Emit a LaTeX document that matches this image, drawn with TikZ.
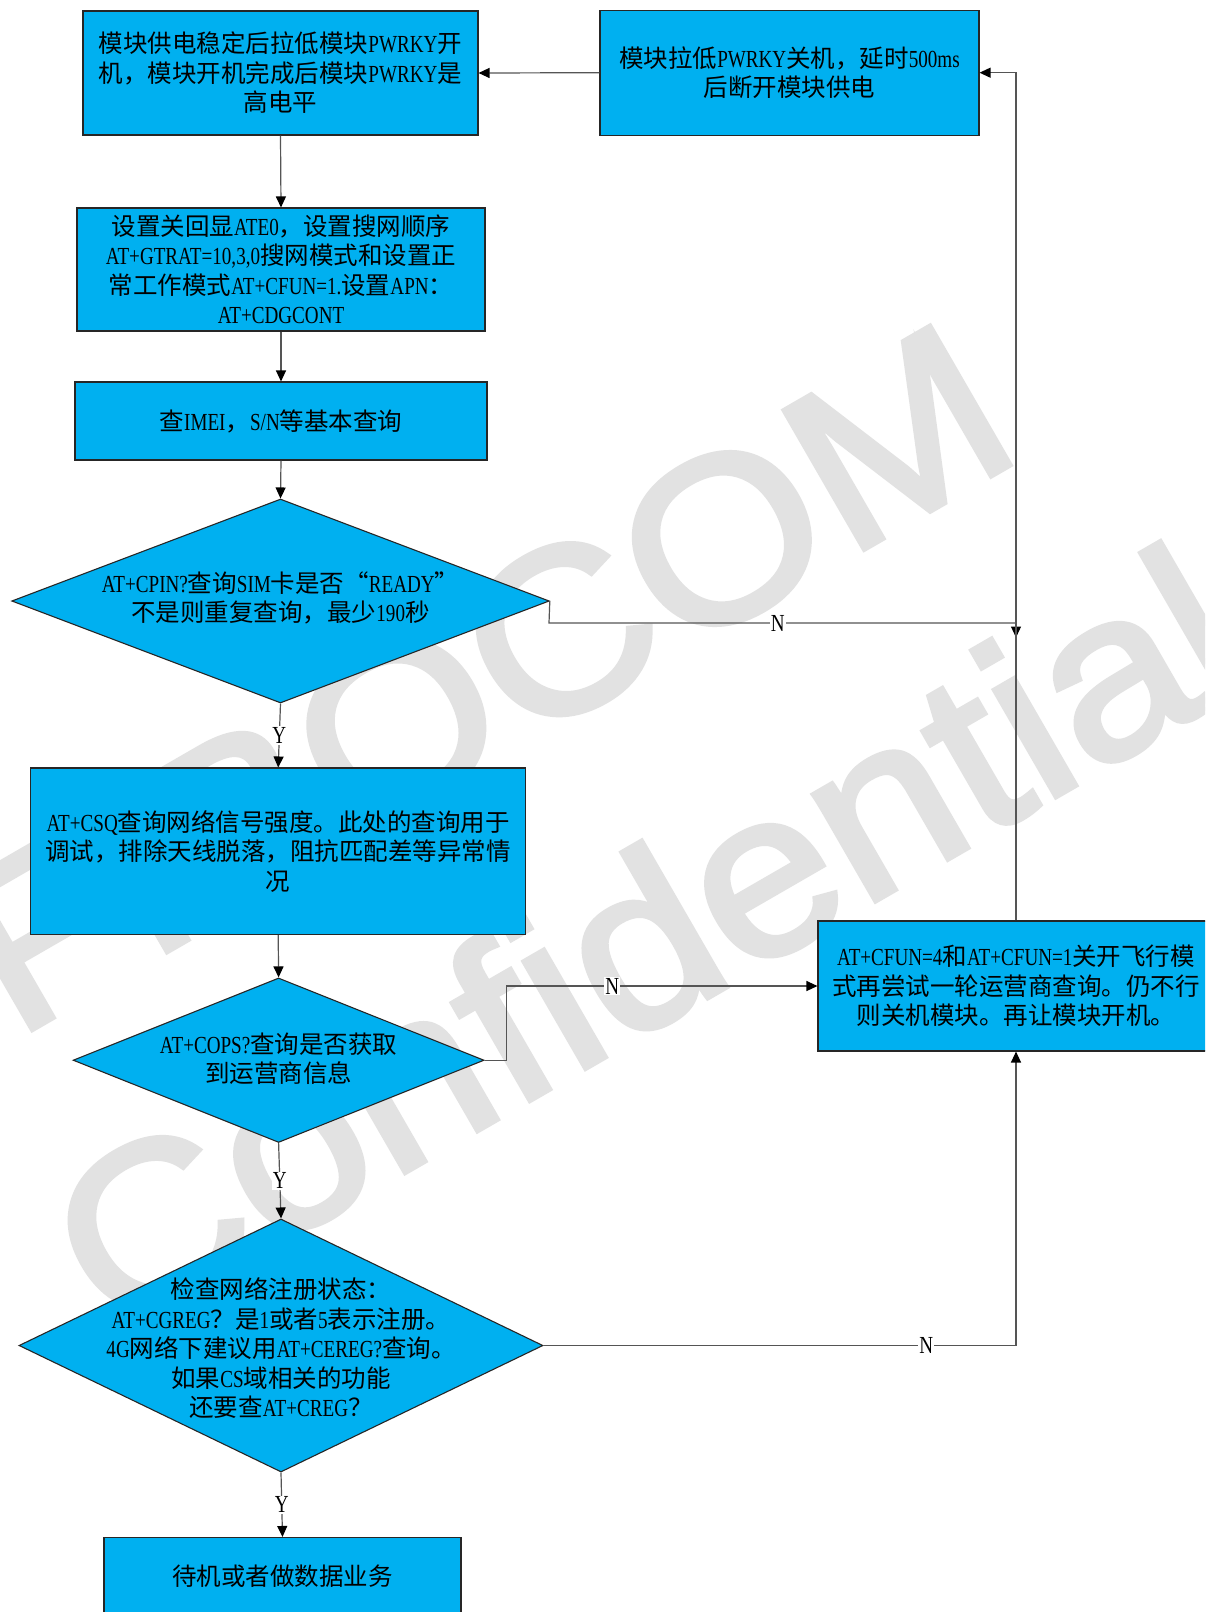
\documentclass[tikz,border=0pt]{standalone}
\usepackage{fontspec}
\setmainfont{Noto Sans CJK SC}
\newfontfamily\latfont[FakeStretch=0.78]{Liberation Serif}
\newfontfamily\wmfont[FakeBold=2.5,FakeStretch=1.08]{Liberation Sans}
\usetikzlibrary{arrows.meta,shapes.geometric}
\newcommand\en[1]{{\latfont #1}}
\definecolor{boxblue}{RGB}{0,176,240}
\definecolor{wmgray}{RGB}{226,226,226}
\definecolor{linegray}{RGB}{85,85,85}
\begin{document}
\begin{tikzpicture}[x=1pt,y=-1pt,
  txt/.style={font=\fontsize{24.5pt}{29.5pt}\selectfont, align=center, text=black},
  box/.style={txt, rectangle, draw=black!85, line width=1.1pt, fill=boxblue, inner sep=0pt},
  dia/.style={diamond, draw=black!85, line width=1.1pt, fill=boxblue, inner sep=0pt},
  conn/.style={draw=linegray, line width=1.2pt, -{Triangle[length=11pt,width=10pt,color=black]}},
  lbl/.style={font=\fontsize{24.5pt}{29.5pt}\selectfont\latfont, fill=white, inner sep=1pt, text=black},
  wm/.style={font=\fontsize{232pt}{240pt}\selectfont\wmfont, text=wmgray, inner sep=0pt}
]
\clip (0,0) rectangle (1205,1612);
\fill[white] (0,0) rectangle (1205,1612);
% watermark
\node[wm, rotate=30, anchor=base] (wm1) at (521,747) {FIBOCOM};
\node[wm, rotate=30, anchor=base] (wm2) at (686,1010) {Confidential};
% coordinates
\coordinate (rx) at (1016,0);
% boxes
\node[box, minimum width=395pt, minimum height=124pt] (n1) at (280.5,73) {模块供电稳定后拉低模块\en{PWRKY}开\\机，模块开机完成后模块\en{PWRKY}是\\高电平};
\node[box, minimum width=379pt, minimum height=125pt] (n2) at (789.5,72.7) {模块拉低\en{PWRKY}关机，延时\en{500ms}\\后断开模块供电};
\node[box, minimum width=408pt, minimum height=123pt] (n3) at (281,269.5) {设置关回显\en{ATE0}，设置搜网顺序\\\en{AT+GTRAT=10,3,0}搜网模式和设置正\\常工作模式\en{AT+CFUN=1.}设置\en{APN}：\\\en{AT+CDGCONT}};
\node[box, minimum width=412pt, minimum height=78pt] (n4) at (281,421) {查\en{IMEI}，\en{S/N}等基本查询};
\node[dia, minimum width=537.5pt, minimum height=204pt] (d1) at (280.5,601) {};
\node[txt] (d1t) at (280.5,598) {\en{AT+CPIN?}查询\en{SIM}卡是否“\en{READY}”\\不是则重复查询，最少\en{190}秒};
\node[box, minimum width=495pt, minimum height=166.6pt] (n5) at (278.2,851.3) {\en{AT+CSQ}查询网络信号强度。此处的查询用于\\调试，排除天线脱落，阻抗匹配差等异常情\\况};
\node[dia, minimum width=411pt, minimum height=164.5pt] (d2) at (278.6,1060.2) {};
\node[txt] (d2t) at (278.6,1058.7) {\en{AT+COPS?}查询是否获取\\到运营商信息};
\node[dia, minimum width=524pt, minimum height=253pt] (d3) at (281,1345.5) {};
\node[txt] (d3t) at (281,1348.5) {检查网络注册状态：\\\en{AT+CGREG}？是\en{1}或者\en{5}表示注册。\\\en{4G}网络下建议用\en{AT+CEREG?}查询。\\如果\en{CS}域相关的功能\\还要查\en{AT+CREG}？};
\node[box, minimum width=396pt, minimum height=130pt] (n6) at (1016,986) {\en{AT+CFUN=4}和\en{AT+CFUN=1}关开飞行模\\式再尝试一轮运营商查询。仍不行\\则关机模块。再让模块开机。};
\node[box, minimum width=357pt, minimum height=78pt] (n7) at (282.5,1576.5) {待机或者做数据业务};
% connectors
\draw[conn] (n2.west) -- (n1.east);
\draw[conn] (n1.south) -- (n3.north);
\draw[conn] (n3.south) -- (n4.north);
\draw[conn] (n4.south) -- (d1.north);
\draw[conn] (d1.south) -- node[lbl] (y1) {Y} (n5.north);
\draw[conn] (n5.south) -- (d2.north);
\draw[conn] (d2.south) -- node[lbl] (y2) {Y} (d3.north);
\draw[conn] (d3.south) -- node[lbl] (y3) {Y} (n7.north);
\coordinate (j1) at (1016,637.5);
\draw[conn] (d1.east) -- (549,623) -- node[lbl, pos=0.49] (l1) {N} (1016,623) -- (j1);
\draw[conn] (d2.east) -- (506.7,1060.2) -- (506.7,986) -- node[lbl, pos=0.34] (l2) {N} (n6.west);
\draw[conn] (d3.east) -- node[lbl, pos=0.81] (l3) {N} (d3.east -| rx) -- (n6.south -| rx);
\draw[conn] (n6.north -| rx) -- (rx |- n2.east) -- (n2.east);
\end{tikzpicture}
\end{document}
